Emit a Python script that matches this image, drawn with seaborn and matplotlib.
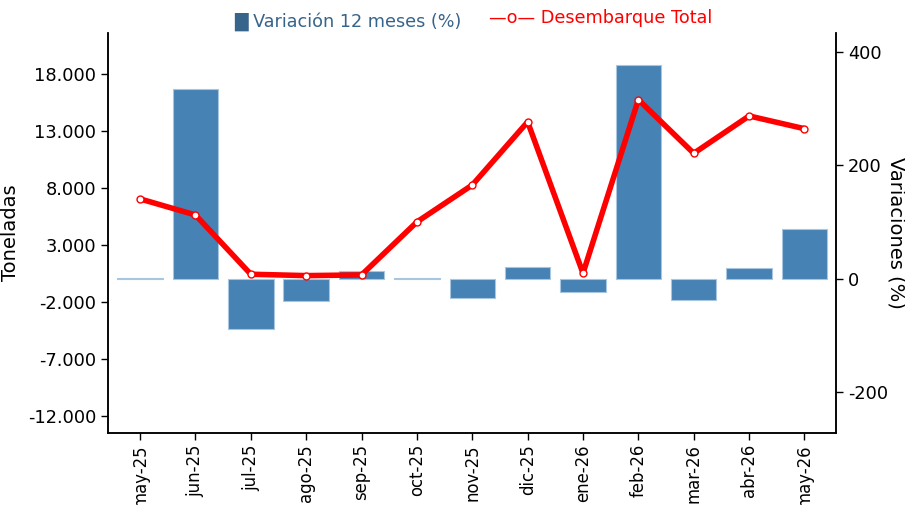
import matplotlib
matplotlib.use('Agg')
import matplotlib.pyplot as plt
import numpy as np
import pandas as pd
import seaborn as sns

meses = ['may-25', 'jun-25', 'jul-25', 'ago-25', 'sep-25', 'oct-25', 'nov-25',
         'dic-25', 'ene-26', 'feb-26', 'mar-26', 'abr-26', 'may-26']
variacion_pct = [1.0, 335, -87.6, -38.8, 12.9, 0.8, -34.4, 19.9, -23.0, 377, -36.5, 19.4, 87.7]
desembarque_ton = [7040, 5630, 430, 310, 370, 5020, 8260, 13800, 520, 15750, 11040, 14320, 13200]

ticks_ton = [-12000, -7000, -2000, 3000, 8000, 13000, 18000]
ticks_pct = [-200, 0, 200, 400]

df = pd.DataFrame({'mes': meses, 'variacion': variacion_pct, 'desembarque': desembarque_ton})

sns.set_style('ticks')
plt.rcParams['font.family'] = ['DejaVu Sans']

fig, ax = plt.subplots(figsize=(9.05, 5.05), dpi=100)
fig.subplots_adjust(left=0.1193, right=0.9238, top=0.9347, bottom=0.1426)
ax2 = ax.twinx()

# barras de variacion en el eje derecho
sns.barplot(data=df, x='mes', y='variacion', color='#4682B4', saturation=1,
            width=0.82, edgecolor='#a9c6e0', linewidth=0.8, ax=ax2)

# linea de desembarque en el eje izquierdo
sns.pointplot(data=df, x='mes', y='desembarque', color='red', errorbar=None,
              markers='o', linewidth=4, markersize=5, markerfacecolor='white',
              markeredgecolor='red', markeredgewidth=1, ax=ax)

ax.set_zorder(ax2.get_zorder() + 1)
ax.patch.set_visible(False)

ax.set_xlim(-0.58, 12.57)
ax.set_ylim(-13500, 21600)
ax2.set_ylim(-271.6, 433)

ax.set_yticks(ticks_ton)
ax.set_yticklabels([f"{v:,.0f}".replace(',', '.') for v in ticks_ton], fontsize=12.8)
ax2.set_yticks(ticks_pct)
ax2.set_yticklabels([str(v) for v in ticks_pct], fontsize=12.8)
ax.set_xticks(range(len(meses)))
ax.set_xticklabels(meses, rotation=90, fontsize=11.9)

ax.set_xlabel('')
ax2.set_xlabel('')
ax.set_ylabel('Toneladas', fontsize=14, color='black')
ax2.set_ylabel('Variaciones (%)', fontsize=14, rotation=270, va='center', color='black')
ax.yaxis.set_label_coords(-0.121, 0.5)
ax2.yaxis.set_label_coords(1.0824, 0.5)

for a in (ax, ax2):
    a.spines['top'].set_visible(False)
    for s in ('left', 'right', 'bottom'):
        a.spines[s].set_color('black')
        a.spines[s].set_linewidth(1.1)
    a.tick_params(length=5, width=1, colors='black')
ax.tick_params(axis='x', pad=3)

fig.text(0.2586, 0.958, '█ Variación 12 meses (%)', color='#36648B', fontsize=12.7,
         ha='left', va='center')
fig.text(0.5403, 0.964, '—o— Desembarque Total', color='red', fontsize=12.7,
         ha='left', va='center')

plt.savefig('out.png', dpi=100)
